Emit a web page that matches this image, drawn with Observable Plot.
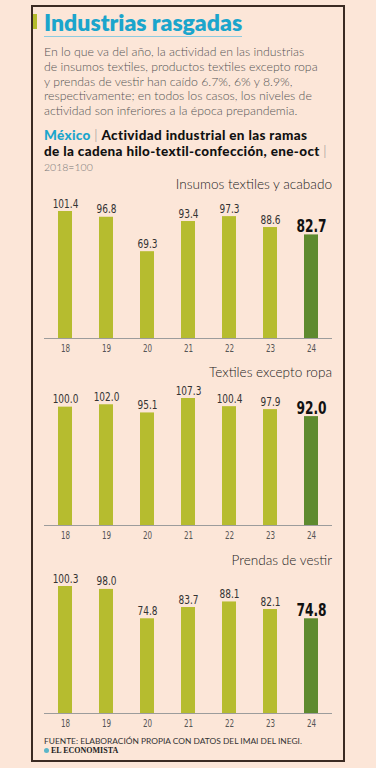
<!DOCTYPE html>
<html>
<head>
<meta charset="utf-8">
<script src="https://cdn.jsdelivr.net/npm/d3@7"></script>
<script src="https://cdn.jsdelivr.net/npm/@observablehq/plot@0.6"></script>
<style>
  html, body { margin: 0; padding: 0; }
  body { width: 376px; height: 768px; background: #fce6d8; position: relative; overflow: hidden; font-family: Lato, "Noto Sans", sans-serif; }
  .abs { position: absolute; white-space: nowrap; }
  #box { left: 31px; top: 5px; width: 310px; height: 753px; border: 2px solid #3b2b23; }
  #accent { left: 33px; top: 14px; width: 4px; height: 15px; background: #b4bb2c; }
  #title { left: 44px; top: 8px; font-size: 23px; line-height: 28px; font-weight: 800; color: #1ba5cc; }
  #underline { left: 44px; top: 36px; width: 198px; height: 1px; background: #8ccbe0; }
  #body { left: 44px; top: 45px; font-size: 12.3px; line-height: 14.8px; color: #555; font-weight: 300; }
  .sub { left: 44px; font-size: 13.5px; line-height: 14.3px; color: #111; font-weight: 900; letter-spacing: 0.35px; }
  .sub span { display: inline-block; line-height: 14.3px; }
  .sub .mx { color: #1ba5cc; }
  .sub .bar { color: #888; font-weight: 300; }
  #base { left: 44px; top: 161px; font-size: 10.5px; line-height: 12px; color: #777; font-weight: 300; }
  .ptitle { right: 44px; font-size: 13.6px; line-height: 18px; color: #222; font-weight: 300; }
  .panel { left: 0; }
  #src { left: 44px; top: 736px; font-size: 8.4px; line-height: 10px; color: #333; font-weight: 400; }
  #logo { left: 44px; top: 746px; font-size: 8px; line-height: 10px; color: #222; font-weight: bold; font-family: "Liberation Serif", "DejaVu Serif", serif; }
  #logo .dot { display: inline-block; width: 5px; height: 5px; border-radius: 50%; background: #5bb6c9; margin-right: 2px; vertical-align: 0px; }
</style>
</head>
<body>
<div id="box" class="abs"></div>
<div id="accent" class="abs"></div>
<div id="title" class="abs">Industrias rasgadas</div>
<div id="underline" class="abs"></div>
<div id="body" class="abs">En lo que va del año, la actividad en las industrias<br>de insumos textiles, productos textiles excepto ropa<br>y prendas de vestir han caído 6.7%, 6% y 8.9%,<br>respectivamente; en todos los casos, los niveles de<br>actividad son inferiores a la época prepandemia.</div>
<div class="abs sub" style="top:128px"><span class="mx">México</span> <span class="bar">|</span> <span>Actividad industrial en las ramas</span></div>
<div class="abs sub" style="top:143.5px"><span>de la cadena hilo-textil-confección, ene-oct</span> <span class="bar">|</span></div>
<div id="base" class="abs">2018=100</div>
<div id="src" class="abs">FUENTE: ELABORACIÓN PROPIA CON DATOS DEL IMAI DEL INEGI.</div>
<div id="logo" class="abs"><span class="dot"></span>EL ECONOMISTA</div>
<script>
const years = ["18", "19", "20", "21", "22", "23", "24"];
const insumos = [101.4, 96.8, 69.3, 93.4, 97.3, 88.6, 82.7];
const textiles = [100.0, 102.0, 95.1, 107.3, 100.4, 97.9, 92.0];
const prendas = [100.3, 98.0, 74.8, 83.7, 88.1, 82.1, 74.8];
const panelTitles = ["Insumos textiles y acabado", "Textiles excepto ropa", "Prendas de vestir"];
const highlightYear = "24";

const light = "#b6bc2f";
const dark = "#5e8a2e";
const numFont = "'DejaVu Sans', sans-serif";

const panels = [
  {values: insumos, title: panelTitles[0], top: 190, titleTop: 175},
  {values: textiles, title: panelTitles[1], top: 377, titleTop: 363},
  {values: prendas, title: panelTitles[2], top: 565, titleTop: 551}
];

for (const p of panels) {
  const data = years.map((y, i) => ({year: y, value: p.values[i]}));
  const normal = data.filter(d => d.year !== highlightYear);
  const hl = data.filter(d => d.year === highlightYear);
  const max = d3.max(p.values);
  const chart = Plot.plot({
    width: 376,
    height: 170,
    marginTop: 21,
    marginBottom: 22,
    marginLeft: 44,
    marginRight: 44,
    style: {background: "transparent", overflow: "visible", fontFamily: numFont},
    x: {domain: years, paddingInner: 0.67, paddingOuter: 0.335, axis: null},
    y: {domain: [0, max], axis: null},
    marks: [
      Plot.barY(normal, {x: "year", y: "value", fill: light}),
      Plot.barY(hl, {x: "year", y: "value", fill: dark}),
      Plot.ruleY([0], {stroke: "#9c9c9c", strokeWidth: 1}),
      Plot.text(normal, {x: "year", y: "value", text: d => d.value.toFixed(1), lineAnchor: "bottom", dy: -4, fontSize: 12.5, fill: "#333"}),
      Plot.text(hl, {x: "year", y: "value", text: d => d.value.toFixed(1), lineAnchor: "bottom", dy: -3, fontSize: 17, fontWeight: "bold", fill: "#111"}),
      Plot.axisX({tickSize: 0, tickPadding: 6, fontSize: 10, fill: "#555", label: null})
    ]
  });
  // condense the numeric labels horizontally
  chart.querySelectorAll("text").forEach(el => {
    const tr = el.getAttribute("transform");
    if (tr) el.setAttribute("transform", tr + " scale(0.72,1)");
  });
  chart.classList.add("abs", "panel");
  chart.style.top = p.top + "px";
  document.body.appendChild(chart);
  const t = document.createElement("div");
  t.className = "abs ptitle";
  t.style.top = p.titleTop + "px";
  t.textContent = p.title;
  document.body.appendChild(t);
}
</script>
</body>
</html>
